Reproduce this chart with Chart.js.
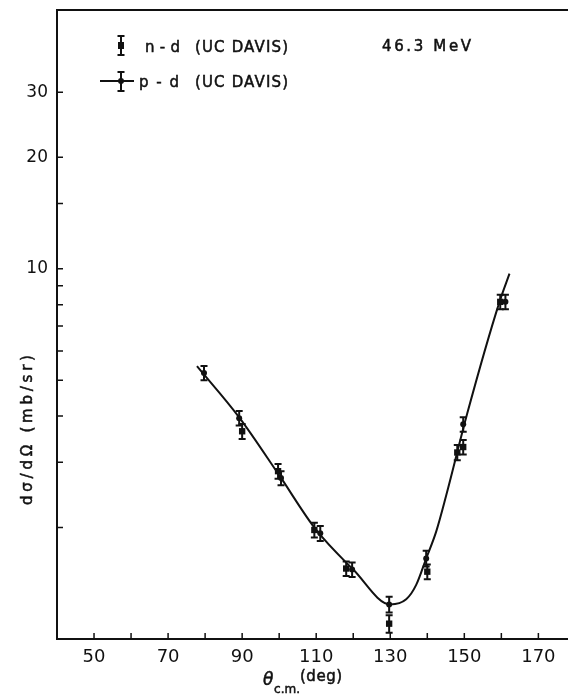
<!DOCTYPE html>
<html>
<head>
<meta charset="utf-8">
<script src="https://cdn.jsdelivr.net/npm/chart.js@4.4.1/dist/chart.umd.min.js"></script>
<style>
  html, body { margin: 0; padding: 0; background: #fff; }
  #wrap { width: 568px; height: 694px; }
</style>
</head>
<body>
<div id="wrap"><canvas id="chart" width="568" height="694"></canvas></div>
<script>
// n-d data (UC Davis) : angle c.m. (deg), dsigma/dOmega (mb/sr), error
const ndAngles = [90.0, 99.7, 109.5, 118.1, 129.7, 140.0, 148.1, 149.7, 159.7];
const ndValues = [3.64, 2.84, 1.97, 1.55, 1.10, 1.52, 3.19, 3.30, 8.14];
const ndErrors = [0.17, 0.13, 0.09, 0.07, 0.06, 0.07, 0.15, 0.15, 0.37];

// p-d data (UC Davis)
const pdAngles = [79.7, 89.2, 100.5, 111.1, 119.7, 129.7, 139.7, 149.7, 161.1];
const pdValues = [5.23, 3.95, 2.72, 1.93, 1.54, 1.24, 1.65, 3.80, 8.14];
const pdErrors = [0.23, 0.18, 0.12, 0.09, 0.07, 0.06, 0.08, 0.17, 0.37];

// courbe tracée à la main dans la figure
const curveAngles = [77.8, 89.2, 100, 110, 120, 130, 134.3, 137, 139.7, 142.4, 145.1, 150.8, 159.5, 162.2];
const curveValues = [5.46, 3.97, 2.77, 1.97, 1.54, 1.24, 1.28, 1.40, 1.65, 1.95, 2.44, 4.07, 8.14, 9.7];

// axes
const xTickLabels = [50, 70, 90, 110, 130, 150, 170];
const xMinorTicks = [60, 80, 100, 120, 140, 160];
const yTickLabels = [10, 20, 30];
const yMinorTicks = [2, 3, 4, 5, 6, 7, 8, 9, 15];

const INK = '#111';
const FONT = '"DejaVu Sans", "Liberation Sans", sans-serif';

function toPoints(xs, ys) {
  return xs.map((x, i) => ({ x: x, y: ys[i] }));
}

// texte avec espacement des lettres ajusté à une largeur donnée
function spacedText(ctx, text, x, y, width, size) {
  ctx.font = size + 'px ' + FONT;
  ctx.letterSpacing = '0px';
  const natural = ctx.measureText(text).width;
  const sp = text.length > 1 ? (width - natural) / (text.length - 1) : 0;
  ctx.letterSpacing = sp.toFixed(2) + 'px';
  ctx.lineWidth = 0.5;
  ctx.fillText(text, x, y);
  ctx.strokeText(text, x, y);
  ctx.letterSpacing = '0px';
}

function errorBar(ctx, px, yTop, yBot, cap) {
  ctx.beginPath();
  ctx.moveTo(px, yTop); ctx.lineTo(px, yBot);
  ctx.moveTo(px - cap, yTop); ctx.lineTo(px + cap, yTop);
  ctx.moveTo(px - cap, yBot); ctx.lineTo(px + cap, yBot);
  ctx.stroke();
}

const decorPlugin = {
  id: 'decor',
  afterDatasetsDraw(chart) {
    const ctx = chart.ctx;
    const xs = chart.scales.x;
    const ys = chart.scales.y;
    const a = chart.chartArea;
    ctx.save();
    ctx.strokeStyle = INK;
    ctx.fillStyle = INK;

    // barres d'erreur
    ctx.lineWidth = 2;
    const bars = [[ndAngles, ndValues, ndErrors], [pdAngles, pdValues, pdErrors]];
    bars.forEach(([ang, val, err]) => {
      ang.forEach((t, i) => {
        const px = xs.getPixelForValue(t);
        errorBar(ctx, px, ys.getPixelForValue(val[i] + err[i]), ys.getPixelForValue(val[i] - err[i]), 3.5);
      });
    });

    // cadre
    ctx.lineWidth = 2;
    ctx.beginPath();
    ctx.moveTo(a.right, a.top); ctx.lineTo(a.left, a.top);
    ctx.lineTo(a.left, a.bottom); ctx.lineTo(a.right, a.bottom);
    ctx.stroke();

    // graduations vers l'intérieur
    ctx.lineWidth = 1.5;
    ctx.beginPath();
    xTickLabels.concat(xMinorTicks).forEach(v => {
      const px = xs.getPixelForValue(v);
      ctx.moveTo(px, a.bottom); ctx.lineTo(px, a.bottom - 6);
    });
    yTickLabels.concat(yMinorTicks).forEach(v => {
      const py = ys.getPixelForValue(v);
      ctx.moveTo(a.left, py); ctx.lineTo(a.left + 6, py);
    });
    ctx.stroke();

    // légende
    ctx.lineWidth = 2;
    errorBar(ctx, 121, 36, 55, 3.5);
    ctx.fillRect(118, 42, 6, 7);
    ctx.beginPath(); ctx.moveTo(100, 81); ctx.lineTo(134, 81); ctx.stroke();
    errorBar(ctx, 121, 72, 91, 3.5);
    ctx.beginPath(); ctx.arc(121, 81, 3, 0, Math.PI * 2); ctx.fill();

    ctx.textBaseline = 'alphabetic';
    ctx.textAlign = 'left';
    spacedText(ctx, 'n-d', 145, 52, 35, 15);
    spacedText(ctx, '(UC DAVIS)', 195, 52, 93, 15);
    spacedText(ctx, 'p-d', 139, 87, 40, 15);
    spacedText(ctx, '(UC DAVIS)', 195, 87, 93, 15);
    spacedText(ctx, '46.3 MeV', 382, 51, 89, 15);

    // titre de l'axe y
    ctx.save();
    ctx.translate(32, 505);
    ctx.rotate(-Math.PI / 2);
    spacedText(ctx, 'dσ/dΩ (mb/sr)', 0, 0, 150, 15);
    ctx.restore();

    // titre de l'axe x
    ctx.font = 'italic 17px ' + FONT;
    ctx.lineWidth = 0.5;
    ctx.fillText('θ', 263, 685);
    ctx.strokeText('θ', 263, 685);
    spacedText(ctx, 'c.m.', 274, 693, 26, 12);
    spacedText(ctx, '(deg)', 300, 681, 42, 15);

    ctx.restore();
  }
};

const ctx = document.getElementById('chart').getContext('2d');
window.thetaChart = new Chart(ctx, {
  type: 'scatter',
  data: {
    datasets: [
      {
        label: 'courbe',
        data: toPoints(curveAngles, curveValues),
        showLine: true,
        borderColor: INK,
        borderWidth: 2,
        pointRadius: 0,
        cubicInterpolationMode: 'monotone'
      },
      {
        label: 'n-d (UC DAVIS)',
        data: toPoints(ndAngles, ndValues),
        pointStyle: 'rect',
        pointRadius: 4.5,
        backgroundColor: INK,
        borderColor: INK,
        borderWidth: 0
      },
      {
        label: 'p-d (UC DAVIS)',
        data: toPoints(pdAngles, pdValues),
        pointStyle: 'circle',
        pointRadius: 3,
        backgroundColor: INK,
        borderColor: INK,
        borderWidth: 0
      }
    ]
  },
  options: {
    responsive: false,
    animation: false,
    layout: { autoPadding: false, padding: { top: 10, right: 0, left: 0, bottom: 0 } },
    plugins: {
      legend: { display: false },
      tooltip: { enabled: false }
    },
    scales: {
      x: {
        type: 'linear',
        min: 40,
        max: 178,
        afterBuildTicks: scale => { scale.ticks = xTickLabels.map(v => ({ value: v })); },
        afterFit: scale => {
          scale.height = 55;
          scale.paddingLeft = 0;
          scale.paddingRight = 0;
        },
        grid: { display: false, drawTicks: false },
        border: { display: false },
        ticks: {
          color: INK,
          padding: 8,
          autoSkip: false,
          maxRotation: 0,
          font: { family: FONT, size: 18 },
          callback: v => String(v)
        }
      },
      y: {
        type: 'logarithmic',
        min: 1,
        max: 50,
        afterBuildTicks: scale => { scale.ticks = yTickLabels.map(v => ({ value: v })); },
        afterFit: scale => {
          scale.width = 57;
          scale.paddingTop = 0;
          scale.paddingBottom = 0;
        },
        grid: { display: false, drawTicks: false },
        border: { display: false },
        ticks: {
          color: INK,
          padding: 9,
          autoSkip: false,
          font: { family: FONT, size: 17 },
          callback: v => String(v)
        }
      }
    }
  },
  plugins: [decorPlugin]
});
</script>
</body>
</html>
